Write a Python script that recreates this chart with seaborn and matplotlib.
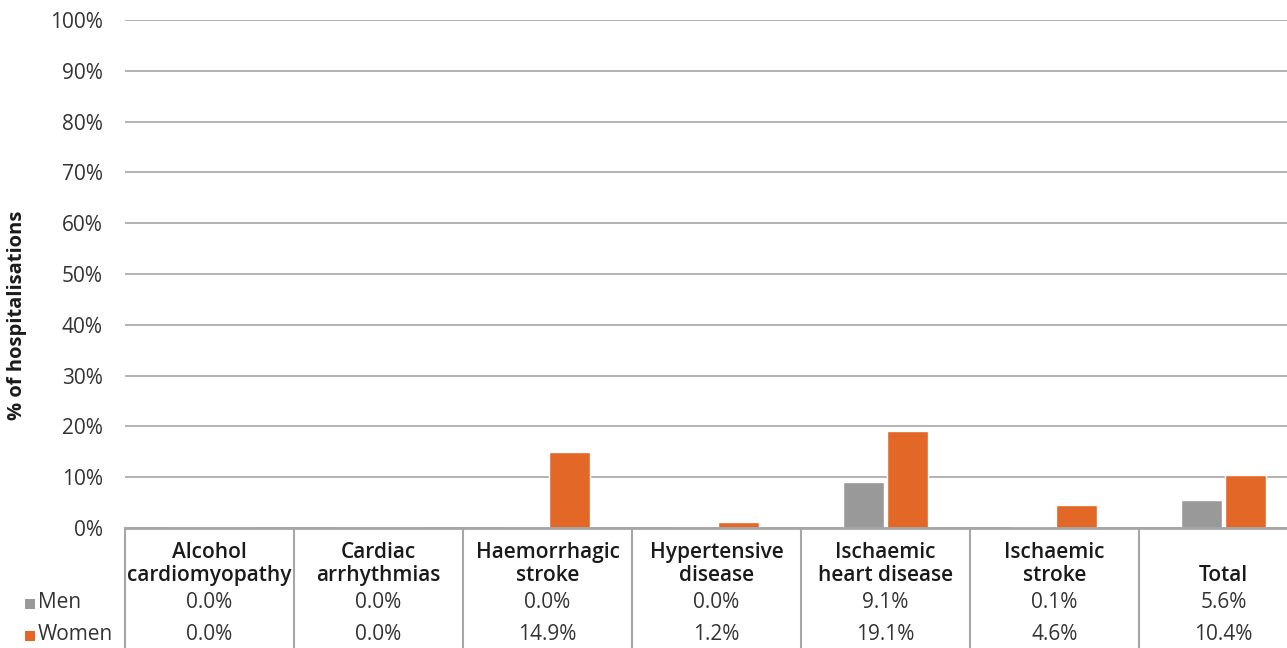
import matplotlib
matplotlib.use("Agg")
import matplotlib.pyplot as plt
from matplotlib.patches import Rectangle
import seaborn as sns
import pandas as pd

categories = ["Alcohol\ncardiomyopathy", "Cardiac\narrhythmias", "Haemorrhagic\nstroke",
              "Hypertensive\ndisease", "Ischaemic\nheart disease", "Ischaemic\nstroke", "Total"]
men = [0.0, 0.0, 0.0, 0.0, 9.1, 0.1, 5.6]
women = [0.0, 0.0, 14.9, 1.2, 19.1, 4.6, 10.4]
series = ["Men", "Women"]
yticks = list(range(0, 101, 10))

GRAY = "#999999"
ORANGE = "#E36727"
TXT = "#333333"
LINE = "#A6A6A6"

sns.set_theme(style="white")
plt.rcParams["font.family"] = ["Open Sans", "DejaVu Sans"]

df = pd.DataFrame({
    "cat": categories * 2,
    "val": men + women,
    "sex": ["Men"] * len(categories) + ["Women"] * len(categories),
})

W, H = 1287, 648
fig = plt.figure(figsize=(W / 100, H / 100), dpi=100)
ax_left, ax_right, ax_top, ax_bot = 125, 1308, 20, 528
ax = fig.add_axes([ax_left / W, (H - ax_bot) / H, (ax_right - ax_left) / W, (ax_bot - ax_top) / H])

sns.barplot(data=df, x="cat", y="val", hue="sex", order=categories, hue_order=series,
            palette=[GRAY, ORANGE], width=0.52, gap=0.06, ax=ax, legend=False,
            saturation=1, zorder=3)

ax.set_xlim(-0.5, len(categories) - 0.5)
ax.set_ylim(0, 100)
ax.set_yticks(yticks)
ax.set_yticklabels([f"{t}%" for t in yticks], fontsize=15, color=TXT)
ax.tick_params(axis="y", length=0, pad=16)
ax.set_xticks([])
ax.set_xlabel("")
ax.set_ylabel("")
ax.grid(axis="y", color=LINE, lw=1.2, zorder=0)
ax.set_axisbelow(True)
for s in ["top", "right", "left"]:
    ax.spines[s].set_visible(False)
ax.spines["bottom"].set_color(LINE)
ax.spines["bottom"].set_linewidth(2)
ax.spines["bottom"].set_zorder(4)

pxh = ax_bot - ax_top
def yf(py):
    return (ax_bot - py) / pxh

tr = ax.get_xaxis_transform()
# table vertical lines
for i in range(len(categories) + 1):
    ax.plot([i - 0.5, i - 0.5], [0, yf(650)], transform=tr, color=LINE, lw=1.5, clip_on=False)

for i, c in enumerate(categories):
    ax.text(i, yf(586), c, transform=tr, ha="center", va="bottom", fontsize=15,
            fontweight="semibold", color="#1a1a1a", linespacing=1.1)
    ax.text(i, yf(603), f"{men[i]:.1f}%", transform=tr, ha="center", va="center",
            fontsize=15, color=TXT)
    ax.text(i, yf(635), f"{women[i]:.1f}%", transform=tr, ha="center", va="center",
            fontsize=15, color=TXT)

# legend keys in table
for (name, col, cy) in [("Men", GRAY, 603), ("Women", ORANGE, 635)]:
    fig.add_artist(Rectangle((25 / W, (H - cy - 6) / H), 10 / W, 10 / H,
                             facecolor=col, edgecolor="none", transform=fig.transFigure))
    fig.text(38 / W, (H - cy) / H, name, ha="left", va="center", fontsize=15, color=TXT)

fig.text(17 / W, (H - 315) / H, "% of hospitalisations", rotation=90, ha="center",
         va="center", fontsize=14.5, fontweight="bold", color="#1a1a1a")

fig.savefig("out.png", dpi=100)
